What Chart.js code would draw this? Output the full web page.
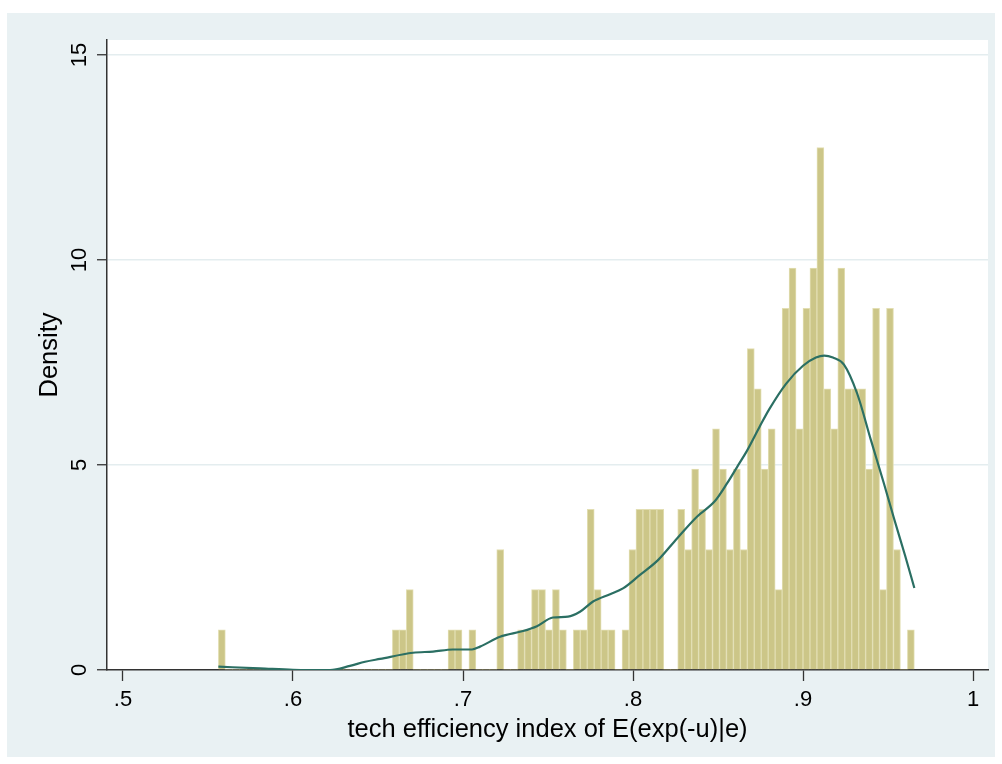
<!DOCTYPE html>
<html>
<head>
<meta charset="utf-8">
<script src="https://cdn.jsdelivr.net/npm/chart.js@4.4.0/dist/chart.umd.min.js"></script>
<style>
  html, body { margin: 0; padding: 0; background: #fff; }
  canvas { display: block; }
</style>
</head>
<body>
<canvas id="myChart" width="1002" height="764"></canvas>
<script>
// histogram: 100 bins from the minimum, counts
const BIN_START = 0.5561;
const BIN_WIDTH = 0.004094;
const DENSITY_PER_COUNT = 0.98;

const binCounts = [
    1, 0, 0, 0, 0, 0, 0, 0, 0, 0,
    0, 0, 0, 0, 0, 0, 0, 0, 0, 0,
    0, 0, 0, 0, 0, 1, 1, 2, 0, 0,
    0, 0, 0, 1, 1, 0, 1, 0, 0, 0,
    3, 0, 0, 1, 1, 2, 2, 1, 2, 1,
    0, 1, 1, 4, 2, 1, 1, 0, 1, 3,
    4, 4, 4, 4, 0, 0, 4, 3, 5, 4,
    3, 6, 5, 3, 5, 3, 8, 7, 5, 6,
    2, 9, 10, 6, 9, 10, 13, 7, 6, 10,
    7, 7, 7, 5, 9, 2, 9, 3, 0, 1
];

// kernel density line
const kdeX = [0.5561, 0.5806, 0.6, 0.61, 0.6218, 0.6335, 0.6424, 0.6512, 0.6706, 0.6824,
    0.6941, 0.7053, 0.71, 0.7218, 0.7353, 0.7435, 0.7529, 0.7618, 0.7688, 0.7765,
    0.7865, 0.7941, 0.8041, 0.8147, 0.8259, 0.8376, 0.8482, 0.8553, 0.8612, 0.8671,
    0.8747, 0.88, 0.89, 0.9, 0.9076, 0.9125, 0.9176, 0.9241, 0.9318, 0.94, 0.9476,
    0.9535, 0.96, 0.9655];
const kdeY = [0.08, 0.04, 0.005, 0.0, 0.0, 0.1, 0.2, 0.27, 0.42, 0.45,
    0.5, 0.5, 0.57, 0.81, 0.95, 1.07, 1.28, 1.3, 1.42, 1.67,
    1.85, 1.99, 2.32, 2.68, 3.21, 3.74, 4.12, 4.55, 4.95, 5.35,
    5.95, 6.35, 6.98, 7.42, 7.62, 7.67, 7.62, 7.45, 6.75, 5.6, 4.55,
    3.7, 2.8, 2.0];

const xTickValues = [0.5, 0.6, 0.7, 0.8, 0.9, 1];
const xTickLabels = ['.5', '.6', '.7', '.8', '.9', '1'];
const yTickValues = [0, 5, 10, 15];
const yTickLabels = ['0', '5', '10', '15'];

const X_MIN = 0.49059;
const X_MAX = 1.00882;
const Y_MAX = 15.366;

const FONT = "'Liberation Sans', Arial, Helvetica, sans-serif";
const AXIS_COLOR = '#333333';
const GRID_COLOR = '#e4edef';
const REGION_COLOR = '#e9f1f3';

const histData = binCounts.map((c, i) => ({
    x: BIN_START + BIN_WIDTH * (i + 0.5),
    y: c * DENSITY_PER_COUNT
}));
const kdeData = kdeX.map((x, i) => ({ x: x, y: kdeY[i] }));

// Stata-like graph region: light bluish frame, white plot region
const regionPlugin = {
    id: 'region',
    beforeDraw(chart) {
        const ctx = chart.ctx;
        const a = chart.chartArea;
        ctx.save();
        ctx.fillStyle = '#ffffff';
        ctx.fillRect(0, 0, chart.width, chart.height);
        ctx.fillStyle = REGION_COLOR;
        ctx.fillRect(7, 13, 988, 744);
        ctx.fillStyle = '#ffffff';
        ctx.fillRect(a.left, a.top, a.right - a.left, a.bottom - a.top);
        ctx.restore();
    }
};

chart = new Chart(document.getElementById('myChart'), {
    type: 'line',
    data: {
        datasets: [
            {
                type: 'line',
                label: 'kdensity',
                data: kdeData,
                borderColor: '#2b6f63',
                borderWidth: 2.2,
                pointRadius: 0,
                fill: false,
                cubicInterpolationMode: 'monotone',
                order: 0
            },
            {
                type: 'bar',
                label: 'Density',
                data: histData,
                backgroundColor: '#ccc688',
                borderColor: '#e2deb2',
                borderWidth: (ctx) => (ctx.raw && ctx.raw.y > 0 ? 1 : 0),
                borderSkipped: 'bottom',
                barPercentage: 1.0,
                categoryPercentage: 1.0,
                order: 1
            }
        ]
    },
    options: {
        responsive: false,
        animation: false,
        devicePixelRatio: 1,
        layout: {
            padding: { left: 0, top: 40, right: 14, bottom: 0 }
        },
        plugins: {
            legend: { display: false },
            tooltip: { enabled: false }
        },
        scales: {
            x: {
                type: 'linear',
                min: X_MIN,
                max: X_MAX,
                offset: false,
                afterFit: (scale) => { scale.height = 94; },
                afterBuildTicks: (scale) => {
                    scale.ticks = xTickValues.map(v => ({ value: v }));
                },
                ticks: {
                    autoSkip: false,
                    maxRotation: 0,
                    padding: 6,
                    color: '#000',
                    font: { family: FONT, size: 22 },
                    callback: (value) => xTickLabels[xTickValues.indexOf(value)]
                },
                grid: {
                    drawOnChartArea: false,
                    drawTicks: true,
                    tickLength: 11,
                    tickColor: AXIS_COLOR,
                    tickWidth: 1.3,
                    offset: false
                },
                border: { display: true, color: AXIS_COLOR, width: 1.5 },
                title: {
                    display: true,
                    text: 'tech efficiency index of E(exp(-u)|e)',
                    color: '#000',
                    font: { family: FONT, size: 25.5 },
                    padding: { top: 0, bottom: 19 }
                }
            },
            y: {
                type: 'linear',
                min: 0,
                max: Y_MAX,
                afterFit: (scale) => { scale.width = 107; },
                afterBuildTicks: (scale) => {
                    scale.ticks = yTickValues.map(v => ({ value: v }));
                },
                ticks: {
                    autoSkip: false,
                    minRotation: 90,
                    maxRotation: 90,
                    crossAlign: 'center',
                    padding: 5,
                    color: '#000',
                    font: { family: FONT, size: 22 },
                    callback: (value) => yTickLabels[yTickValues.indexOf(value)]
                },
                grid: {
                    drawOnChartArea: true,
                    color: (ctx) => (ctx.tick && ctx.tick.value === 0 ? 'rgba(0,0,0,0)' : GRID_COLOR),
                    lineWidth: 1.5,
                    drawTicks: true,
                    tickLength: 10,
                    tickColor: AXIS_COLOR,
                    tickWidth: 1.3
                },
                border: { display: true, color: AXIS_COLOR, width: 1.5 },
                title: {
                    display: true,
                    text: 'Density',
                    color: '#000',
                    font: { family: FONT, size: 25.5 },
                    padding: { top: 35, bottom: 0 }
                }
            }
        }
    },
    plugins: [regionPlugin]
});
</script>
</body>
</html>
